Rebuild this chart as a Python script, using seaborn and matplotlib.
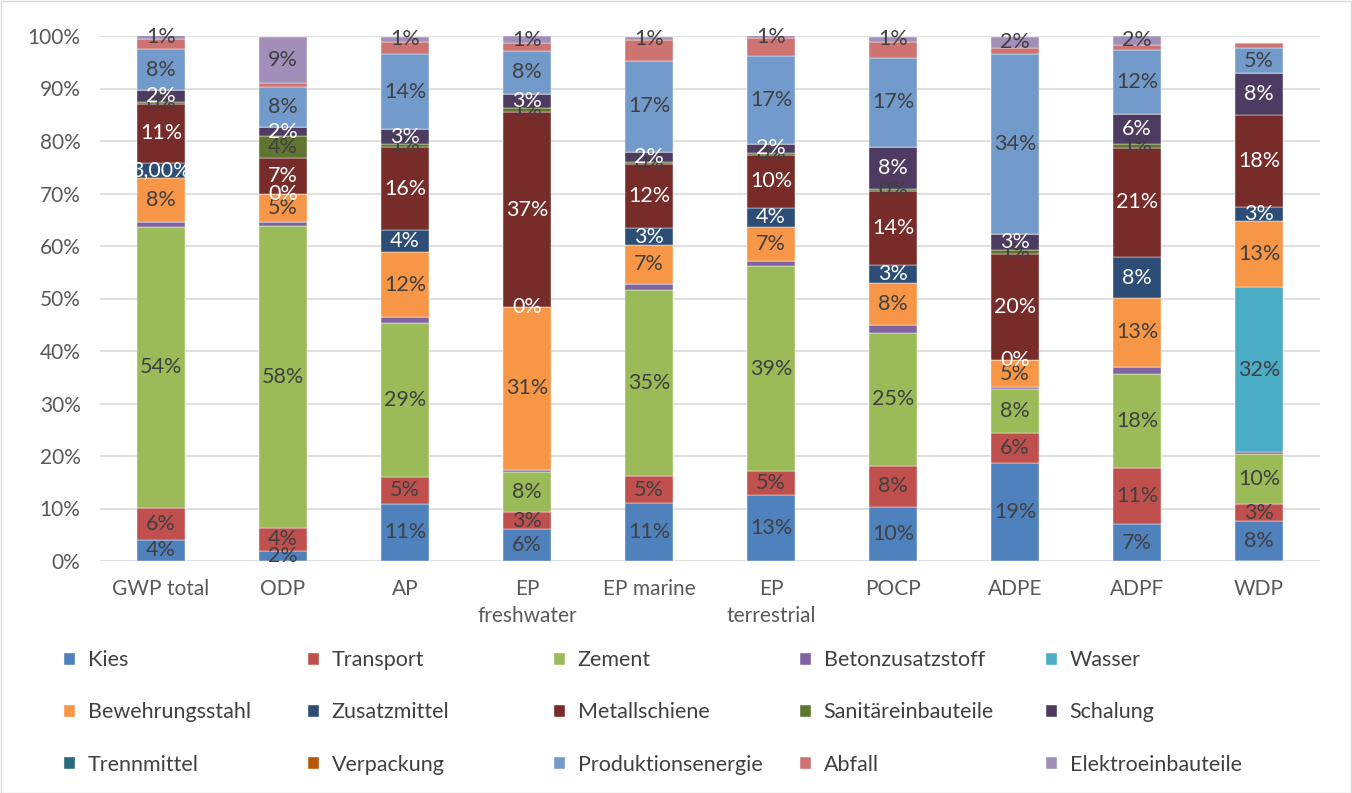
import numpy as np
import matplotlib
matplotlib.use("Agg")
import matplotlib.pyplot as plt
import seaborn as sns
from matplotlib.patches import Rectangle, Patch

sns.set_theme(style="white")
plt.rcParams['font.family'] = ['Lato', 'DejaVu Sans']

nan = np.nan
categories = ["GWP total", "ODP", "AP", "EP\nfreshwater", "EP marine",
              "EP\nterrestrial", "POCP", "ADPE", "ADPF", "WDP"]

# shares in percent, bottom to top of the stack
kies = [4.0, 1.9, 10.9, 6.1, 11.0, 12.6, 10.3, 18.7, 7.0, 7.6]
transport = [6.1, 4.4, 5.1, 3.2, 5.2, 4.6, 7.8, 5.7, 10.7, 3.2]
zement = [53.6, 57.5, 29.3, 7.7, 35.4, 38.9, 25.4, 8.4, 17.9, 9.6]
betonzusatzstoff = [0.9, 0.8, 1.1, 0.4, 1.2, 1.0, 1.4, 0.3, 1.4, 0.3]
wasser = [nan, nan, nan, nan, nan, nan, nan, nan, nan, 31.5]
bewehrungsstahl = [8.3, 5.4, 12.4, 31.0, 7.4, 6.6, 8.0, 5.1, 13.1, 12.6]
zusatzmittel = [3.0, 0.0, 4.3, 0.0, 3.2, 3.6, 3.4, 0.0, 7.8, 2.6]
metallschiene = [11.2, 6.7, 15.7, 37.1, 12.2, 10.1, 14.1, 20.2, 20.8, 17.5]
sanitaer = [0.3, 4.3, 0.7, 0.8, 0.4, 0.4, 0.4, 0.9, 0.7, -0.4]
schalung = [2.3, 1.6, 2.7, 2.6, 1.9, 1.6, 8.1, 2.9, 5.7, 8.0]
trennmittel = [nan] * 10
verpackung = [nan] * 10
produktionsenergie = [7.8, 7.6, 14.3, 8.3, 17.4, 16.8, 17.0, 34.4, 12.2, 4.8]
abfall = [1.9, 0.9, 2.3, 1.4, 3.9, 3.4, 3.0, 1.2, 1.0, 1.0]
elektro = [0.8, 8.8, 1.1, 1.4, 0.6, 0.6, 1.0, 2.1, 1.7, nan]

series = [
    ("Kies", kies, "#4F81BD", "#404040"),
    ("Transport", transport, "#C0504D", "#404040"),
    ("Zement", zement, "#9BBB59", "#404040"),
    ("Betonzusatzstoff", betonzusatzstoff, "#8064A2", None),
    ("Wasser", wasser, "#4BACC6", "#404040"),
    ("Bewehrungsstahl", bewehrungsstahl, "#F79646", "#404040"),
    ("Zusatzmittel", zusatzmittel, "#2C4D75", "white"),
    ("Metallschiene", metallschiene, "#772C2A", "white"),
    ("Sanitäreinbauteile", sanitaer, "#5F7530", "#404040"),
    ("Schalung", schalung, "#4D3B62", "white"),
    ("Trennmittel", trennmittel, "#276A7C", None),
    ("Verpackung", verpackung, "#B65708", None),
    ("Produktionsenergie", produktionsenergie, "#729ACA", "#404040"),
    ("Abfall", abfall, "#CD7371", None),
    ("Elektroeinbauteile", elektro, "#A18FB9", "#404040"),
]
label_override = {("GWP total", "Zusatzmittel"): "3,00%"}

W, H = 1352, 793
fig = plt.figure(figsize=(W / 100, H / 100), dpi=100)
ax = fig.add_axes([100 / W, 1 - 561 / H, 1220 / W, 525 / H])

x = np.arange(len(categories))
pos_bottom = np.zeros(len(categories))
neg_bottom = np.zeros(len(categories))
for name, vals, color, tcolor in series:
    v = np.array(vals, dtype=float)
    vv = np.nan_to_num(v)
    bottom = np.where(vv >= 0, pos_bottom, neg_bottom)
    ax.bar(x, vv, width=0.4, bottom=bottom, color=color, edgecolor="white",
           linewidth=0.3, zorder=3)
    if tcolor is not None:
        for i in range(len(x)):
            if np.isnan(v[i]) or v[i] < 0:
                continue
            txt = label_override.get((categories[i], name), f"{v[i]:.0f}%")
            ax.text(x[i], bottom[i] + vv[i] / 2, txt, ha="center", va="center",
                    color=tcolor, fontsize=15.5, zorder=4)
    pos_bottom += np.where(vv >= 0, vv, 0)
    neg_bottom += np.where(vv < 0, vv, 0)

ax.set_xlim(-0.5, len(categories) - 0.5)
ax.set_ylim(0, 100)
ax.set_yticks(range(0, 101, 10))
ax.set_yticklabels([f"{t}%" for t in range(0, 101, 10)])
ax.set_xticks(x)
ax.set_xticklabels(categories, linespacing=1.45)
ax.tick_params(axis="both", length=0, labelsize=15, labelcolor="#595959")
ax.tick_params(axis="x", pad=13)
ax.tick_params(axis="y", pad=14)
ax.grid(axis="y", color="#D9D9D9", linewidth=1.2, zorder=0)
ax.set_axisbelow(True)
sns.despine(ax=ax, left=True, bottom=True)

# legend: five columns, three rows, filled row by row
col_x = [63, 307, 553, 799, 1045]
for c in range(5):
    handles = [Patch(facecolor=series[c + 5 * r][2]) for r in range(3)]
    labels = [series[c + 5 * r][0] for r in range(3)]
    fig.legend(handles, labels, loc="upper left",
               bbox_to_anchor=(col_x[c] / W, 1 - 650 / H), frameon=False,
               fontsize=15.5, labelcolor="#404040", borderpad=0,
               borderaxespad=0, handlelength=0.55, handleheight=0.55,
               handletextpad=0.6, labelspacing=1.5)

fig.patches.append(Rectangle((0.5 / W, 0.5 / H), 1 - 1.5 / W, 1 - 1.5 / H,
                             transform=fig.transFigure, fill=False,
                             edgecolor="#D9D9D9", linewidth=1))

fig.savefig("out.png", dpi=100)
